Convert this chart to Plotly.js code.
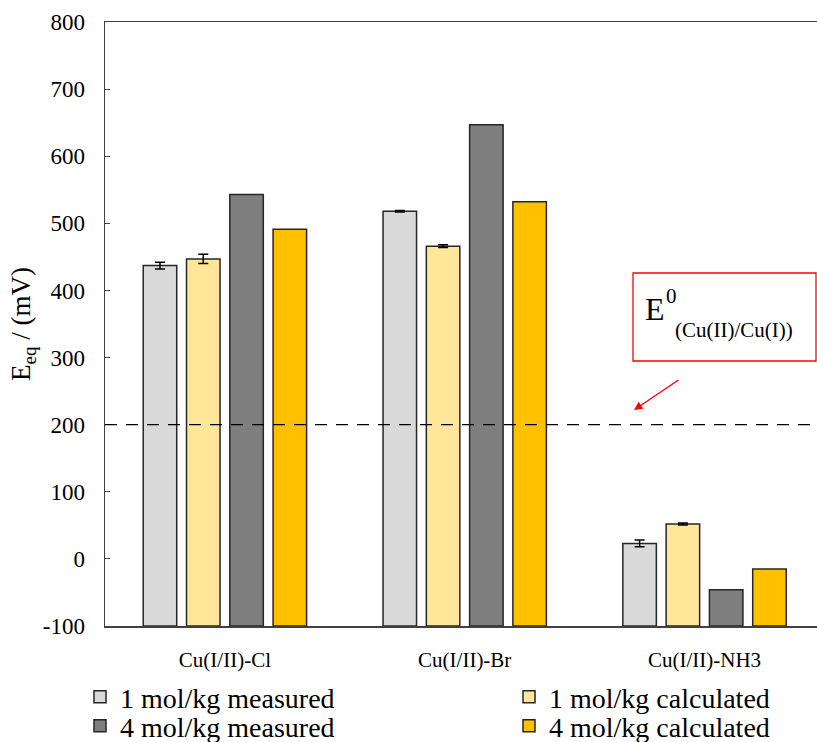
<!DOCTYPE html>
<html>
<head>
<meta charset="utf-8">
<script src="https://cdn.plot.ly/plotly-3.0.1.min.js"></script>
<style>html,body{margin:0;padding:0;background:#fff;}#chart{width:817px;height:742px;}</style>
</head>
<body>
<div id="chart"></div>
<script>
var categories = ["Cu(I/II)-Cl", "Cu(I/II)-Br", "Cu(I/II)-NH3"];
var seriesNames = ["1 mol/kg measured", "1 mol/kg calculated", "4 mol/kg measured", "4 mol/kg calculated"];
var meas1 = [437, 518, 23];
var calc1 = [447, 466, 52];
var meas4 = [543, 647, -46];
var calc4 = [491, 532, -15];
var err_meas1 = [5, 1, 5];
var err_calc1 = [7, 2, 1.5];
var baseValue = -100;
var refPotential = 200;
var yTicks = [-100, 0, 100, 200, 300, 400, 500, 600, 700, 800];

var colors = ["#D9D9D9", "#FFE699", "#7F7F7F", "#FFC000"];
var allSeries = [meas1, calc1, meas4, calc4];
var allErr = [err_meas1, err_calc1, null, null];
var legendIds = ["legend", "legend2", "legend3", "legend4"];
var FONT = "'Liberation Serif', 'Times New Roman', serif";

var traces = allSeries.map(function(vals, i) {
  var t = {
    type: "bar",
    name: seriesNames[i],
    legend: legendIds[i],
    x: categories,
    y: vals.map(function(v){ return v - baseValue; }),
    base: baseValue,
    marker: {color: colors[i], line: {color: "#262626", width: 1.5}},
    hoverinfo: "skip"
  };
  if (allErr[i]) {
    t.error_y = {type: "data", array: allErr[i], visible: true, color: "#000", thickness: 1.5, width: 5};
  }
  return t;
});

var W = 817, H = 742;
var L = 105, T = 22, PW = 712, PH = 604;
var PB = T + PH; // plot bottom pixel
function legendAt(px, py) {
  return {
    xref: "paper", yref: "container",
    x: (px - L) / PW, xanchor: "left",
    y: (H - py) / H, yanchor: "middle",
    orientation: "h",
    font: {family: FONT, size: 28, color: "#000"},
    bgcolor: "rgba(0,0,0,0)", borderwidth: 0,
    itemclick: false, itemdoubleclick: false
  };
}

var layout = {
  width: W, height: H,
  margin: {l: L, r: 0, t: T, b: H - PB},
  paper_bgcolor: "#fff", plot_bgcolor: "#fff",
  font: {family: FONT, color: "#000", size: 21},
  barmode: "group",
  bargap: 0.278,
  bargroupgap: 0.226,
  showlegend: true,
  legend: legendAt(80, 697),
  legend2: legendAt(509, 697),
  legend3: legendAt(80, 726),
  legend4: legendAt(509, 726),
  xaxis: {
    type: "category",
    range: [-0.5, 2.469],
    showline: true, linecolor: "#404040", linewidth: 1.5, mirror: true,
    ticks: "", showgrid: false, zeroline: false,
    tickfont: {family: FONT, size: 21, color: "#000"},
    tickangle: 0, ticklabelstandoff: 14,
    automargin: false
  },
  yaxis: {
    range: [-100, 800],
    tickvals: yTicks,
    ticktext: yTicks.map(String),
    showline: true, linecolor: "#404040", linewidth: 1.5,
    ticks: "inside", ticklen: 5, tickcolor: "#404040",
    showgrid: false, zeroline: false,
    tickfont: {family: FONT, size: 23, color: "#000"},
    ticklabelstandoff: 14,
    title: {text: "E<sub>eq</sub> / (mV)", font: {family: FONT, size: 27, color: "#000"}, standoff: 4},
    automargin: false
  },
  shapes: [
    {type: "line", xref: "paper", x0: 0, x1: 1, yref: "y", y0: refPotential, y1: refPotential,
     line: {color: "#000", width: 1.3, dash: "12px,9px"}},
    {type: "rect", xref: "paper", yref: "paper", x0: (633-L)/PW, x1: (816-L)/PW, y0: (PB-361)/PH, y1: (PB-273)/PH,
     line: {color: "#FF0000", width: 1.3}, fillcolor: "rgba(0,0,0,0)"}
  ],
  annotations: [
    {xref: "paper", yref: "paper", x: (643-L)/PW, y: (PB-309)/PH, xanchor: "left", yanchor: "middle",
     text: "E", showarrow: false, font: {family: FONT, size: 32, color: "#000"}},
    {xref: "paper", yref: "paper", x: (664-L)/PW, y: (PB-296)/PH, xanchor: "left", yanchor: "middle",
     text: "0", showarrow: false, font: {family: FONT, size: 21, color: "#000"}},
    {xref: "paper", yref: "paper", x: (673-L)/PW, y: (PB-330)/PH, xanchor: "left", yanchor: "middle",
     text: "(Cu(II)/Cu(I))", showarrow: false, font: {family: FONT, size: 21, color: "#000"}},
    {xref: "paper", yref: "paper", x: (634-L)/PW, y: (PB-410)/PH, text: "",
     showarrow: true, arrowhead: 2, arrowsize: 1.2, arrowwidth: 1.4, arrowcolor: "#FF0000",
     ax: 46, ay: -31}
  ]
};

Plotly.newPlot("chart", traces, layout, {displayModeBar: false, staticPlot: true});
</script>
</body>
</html>
